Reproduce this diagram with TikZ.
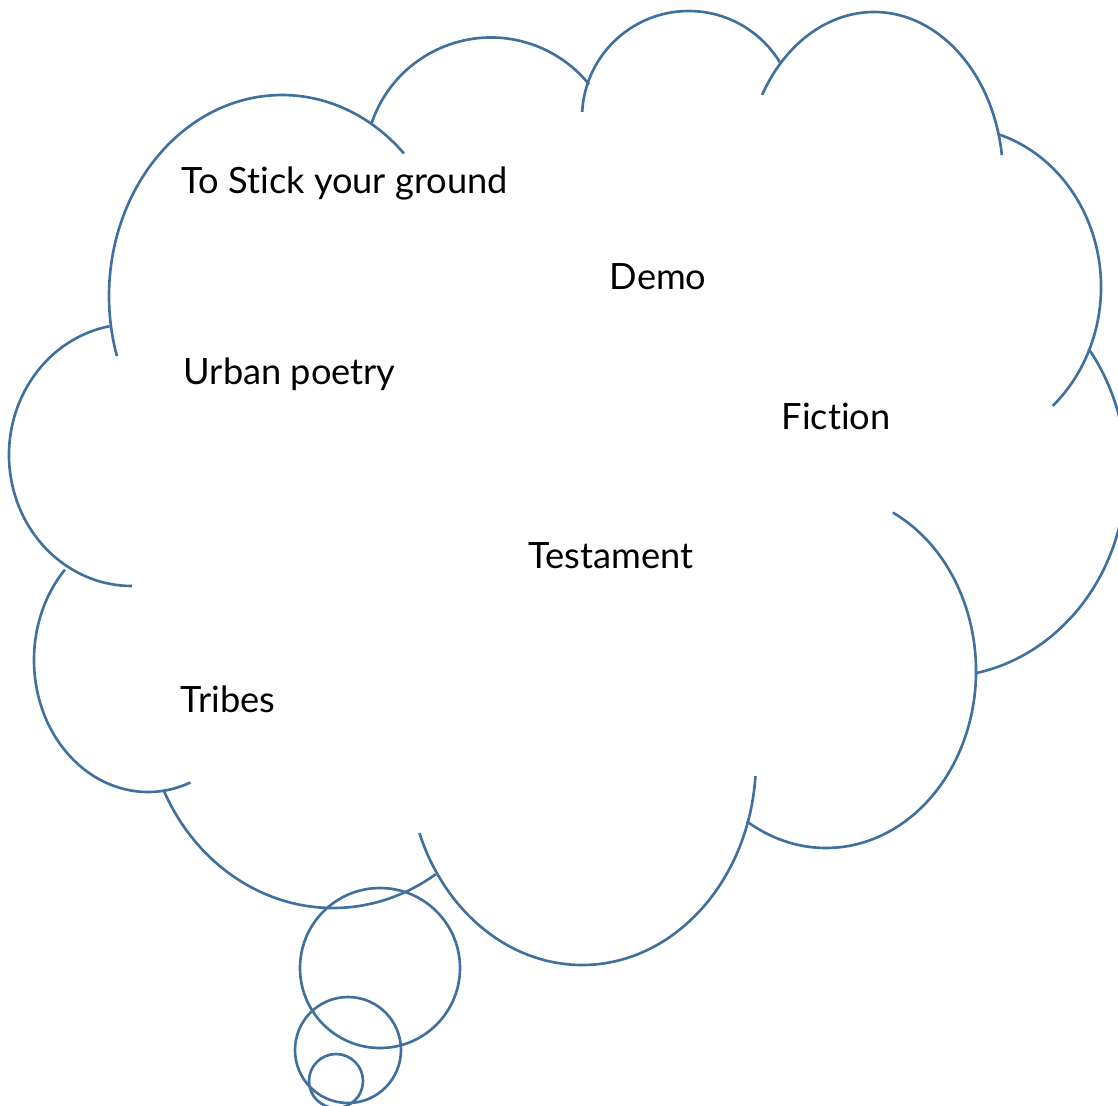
\documentclass[tikz,border=0pt]{standalone}
\usepackage{fontspec}
\setmainfont[Ligatures=NoCommon]{Lato}
\usepackage{tikz}
\definecolor{cloudblue}{RGB}{64,112,158}

\begin{document}
\begin{tikzpicture}[x=0.01cm, y=-0.01cm,
    lobe/.style={draw=cloudblue, line width=0.75pt},
    word/.style={font=\fontsize{10.3}{12}\selectfont, anchor=base west, inner sep=0pt}]
    \useasboundingbox (0,0) rectangle (1118,1106);

    \draw[lobe] (282,296) ++(-45.2:173 and 201) arc[start angle=-45.2, end angle=-197.4, x radius=173, y radius=201];
    \draw[lobe] (491,163.5) ++(-161.2:126 and 126) arc[start angle=-161.2, end angle=-39, x radius=126, y radius=126];
    \draw[lobe] (688.7,117.7) ++(-176.9:106.7 and 106.7) arc[start angle=-176.9, end angle=-31.2, x radius=106.7, y radius=106.7];
    \draw[lobe] (874,177) ++(-150.2:129 and 165) arc[start angle=-150.2, end angle=-7.6, x radius=129, y radius=165];
    \draw[lobe] (955,287) ++(-72:146 and 160) arc[start angle=-72, end angle=48, x radius=146, y radius=160];
    \draw[lobe] (940,472) ++(-37:186 and 205) arc[start angle=-37, end angle=79, x radius=186, y radius=205];
    \draw[lobe] (826,671) ++(-63.5:150 and 177) arc[start angle=-63.5, end angle=121.9, x radius=150, y radius=177];
    \draw[lobe] (582,760) ++(4.5:174 and 205) arc[start angle=4.5, end angle=159.1, x radius=174, y radius=205];
    \draw[lobe] (333,700) ++(56.9:188 and 208) arc[start angle=56.9, end angle=154.4, x radius=188, y radius=208];
    \draw[lobe] (148,660) ++(223.2:114 and 132) arc[start angle=223.2, end angle=68.2, x radius=114, y radius=132];
    \draw[lobe] (132,455) ++(259.5:123 and 131) arc[start angle=259.5, end angle=90, x radius=123, y radius=131];

    \draw[lobe] (380,968) circle[radius=80];
    \draw[lobe] (348,1050) circle[radius=53];
    \draw[lobe] (336,1081) circle[radius=27];

    \node[word] (stick) at (181,193) {To Stick your ground};
    \node[word] (demo) at (609,289) {Demo};
    \node[word] (urban) at (183,384) {Urban poetry};
    \node[word] (fiction) at (781,429) {Fiction};
    \node[word] (testament) at (528,568) {Testament};
    \node[word] (tribes) at (180,712) {Tribes};
\end{tikzpicture}
\end{document}
